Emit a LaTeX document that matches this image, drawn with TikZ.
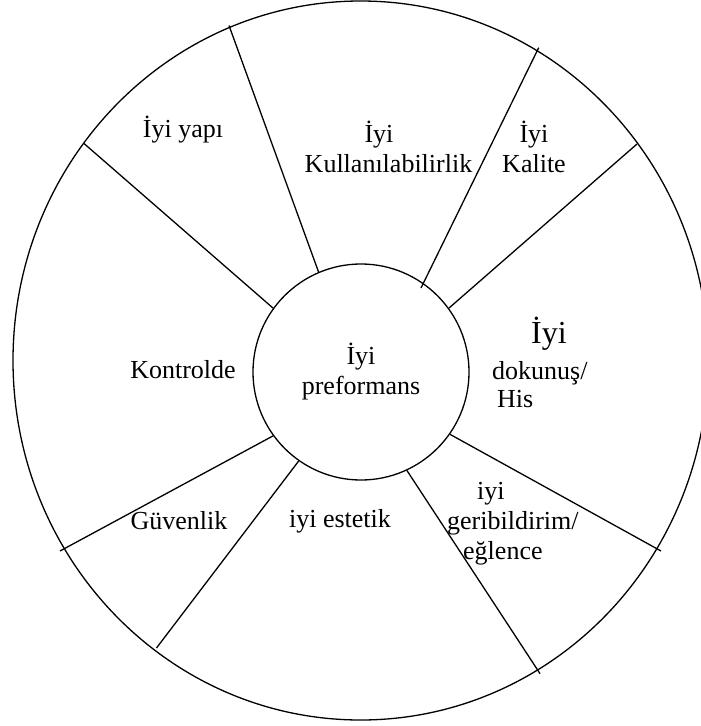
\documentclass[tikz,border=0pt]{standalone}
\usepackage{fontspec}
\setmainfont{Liberation Serif}
\begin{document}
\begin{tikzpicture}[x=1pt,y=-1pt,
  wheel/.style={line width=1.3pt},
  lbl/.style={font=\fontsize{26}{30}\selectfont, inner sep=0pt, align=center},
  lblleft/.style={lbl, align=left, anchor=west}]
\useasboundingbox (0,0) rectangle (701,726);
\clip (0,0) rectangle (701,726);

% outer rim
\draw[wheel] (360.6,360.5) ellipse [x radius=347.6, y radius=359.5];

% hub
\node[wheel, draw, circle, minimum size=216pt, inner sep=0pt,
      font=\fontsize{26}{30}\selectfont, align=center] (core) at (361,372)
      {İyi\\preformans};

% free ends of the spokes on the rim
\coordinate (o1) at (84,143.5);
\coordinate (o2) at (229,25.5);
\coordinate (o3) at (538.7,47.7);
\coordinate (i3) at (421,288);
\coordinate (o4) at (637,144);
\coordinate (o5) at (661,551);
\coordinate (o6) at (540,673.6);
\coordinate (o7) at (156.5,648);
\coordinate (o8) at (60,551);

% spokes
\draw[wheel] (core.144.5) -- (o1);
\draw[wheel] (core.113.5) -- (o2);
\draw[wheel] (i3) -- (o3);
\draw[wheel] (core.36) -- (o4);
\draw[wheel] (core.-35.6) -- (o5);
\draw[wheel] (core.-65.3) -- (o6);
\draw[wheel] (core.-125.8) -- (o7);
\draw[wheel] (core.-144.7) -- (o8);

% sector labels
\node[lbl] (yapi) at (183,130) {İyi yapı};
\node[lbl] (kull) at (388.5,147) {İyi\hspace*{19pt}\\Kullanılabilirlik};
\node[lbl] (kal) at (534,147) {İyi\\Kalite};
\node[lblleft] (dok) at (492,362)
  {\hspace*{39pt}{\fontsize{32}{36}\selectfont İyi}\\[6pt]dokunuş/\\[-2pt]\hspace*{5pt}His};
\node[lbl] (kon) at (183,370) {Kontrolde};
\node[lbl] (guv) at (179,521) {Güvenlik};
\node[lbl] (est) at (340,521) {iyi estetik};
\node[lblleft] (ger) at (447,524)
  {\hspace*{30pt}iyi\\geribildirim/\\\hspace*{16pt}eğlence};
\end{tikzpicture}
\end{document}
